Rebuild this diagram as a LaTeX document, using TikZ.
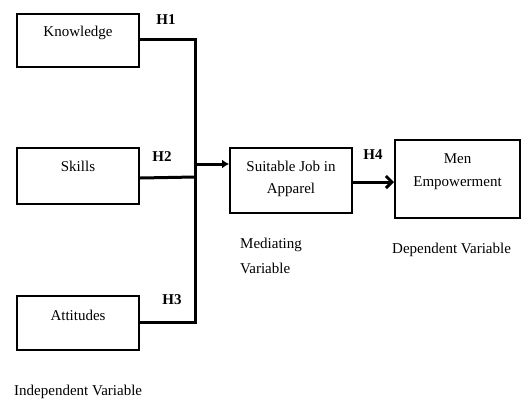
\documentclass[tikz,border=0pt]{standalone}
\usepackage{fontspec}
\setmainfont{Liberation Serif}
\usetikzlibrary{arrows.meta}
\begin{document}
\begin{tikzpicture}[x=1pt,y=-1pt,
  box/.style={draw,line width=2pt,rectangle,inner sep=0pt},
  txt/.style={font=\fontsize{15}{24}\selectfont,inner sep=0pt,align=center},
  hyp/.style={font=\fontsize{15}{18}\selectfont\bfseries,inner sep=0pt},
  conn/.style={line width=3pt,line join=miter}]
\useasboundingbox (0,0) rectangle (522,400);
% boxes
\node[box,minimum width=122pt,minimum height=53pt] (k) at (78,40.5) {};
\node[box,minimum width=122pt,minimum height=56pt] (s) at (78,176) {};
\node[box,minimum width=122pt,minimum height=54pt] (a) at (78,323) {};
\node[box,minimum width=122pt,minimum height=65pt] (j) at (291,180.5) {};
\node[box,minimum width=125pt,minimum height=78pt] (m) at (457.5,179) {};
% box texts
\node[txt] (kt) at (78,33) {Knowledge};
\node[txt] (st) at (78,166) {Skills};
\node[txt] (at) at (78,315) {Attitudes};
\node[txt] (jt1) at (291,166) {Suitable Job in};
\node[txt] (jt2) at (291,190) {Apparel};
\node[txt] (mt1) at (457.5,159) {Men};
\node[txt] (mt2) at (457.5,183) {Empowerment};
% hypothesis labels
\node[hyp] (h1) at (166,20) {H1};
\node[hyp] (h2) at (162,157) {H2};
\node[hyp] (h3) at (172,300) {H3};
\node[hyp] (h4) at (373,155) {H4};
% variable labels
\node[txt,anchor=west] (mv1) at (240,245) {Mediating};
\node[txt,anchor=west] (mv2) at (240,268) {Variable};
\node[txt,anchor=west] (dv) at (392,250) {Dependent Variable};
\node[txt,anchor=west] (iv) at (14,392) {Independent Variable};
% connectors
\coordinate (ct) at (195,39);
\coordinate (cb) at (195,322);
\coordinate (cs) at (195,177);
\coordinate (cm) at (196,164);
\draw[conn] (k.east |- ct) -- (ct) -- (cb) -- (a.east |- cb);
\draw[conn] (s.east |- 0,178) -- (cs);
\draw[conn,-{Latex[length=7pt,width=9pt]}] (cm) -- (cm -| j.west);
\draw[conn,-{Straight Barb[length=6pt,width=12pt,line width=3pt]}] (j.east |- 0,182) -- (m.west |- 0,182);
\end{tikzpicture}
\end{document}
